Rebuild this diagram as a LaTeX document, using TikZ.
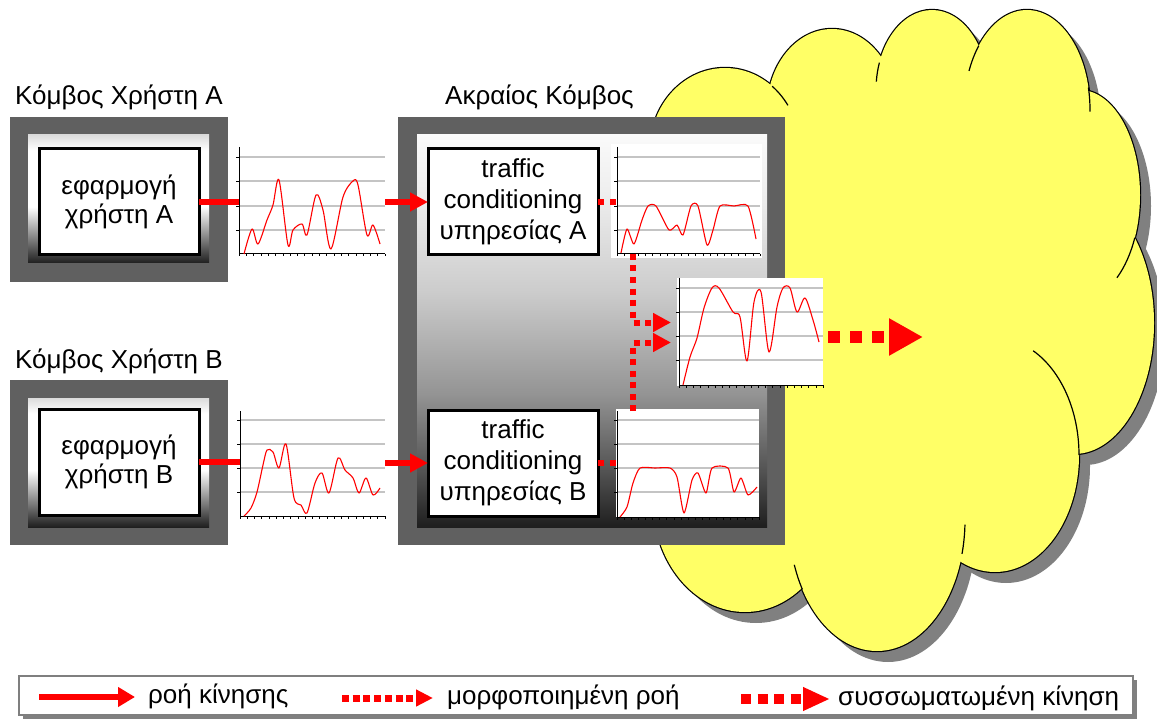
\documentclass[tikz,border=0pt]{standalone}
\usepackage{fontspec}
\setmainfont{Liberation Sans}
\usetikzlibrary{arrows.meta,calc}
\definecolor{bord}{HTML}{606060}
\definecolor{cloudY}{HTML}{FFFF66}
\definecolor{shad}{HTML}{808080}
\definecolor{gridc}{HTML}{C4C4C4}
\definecolor{fred}{HTML}{FF0000}
\definecolor{legb}{HTML}{7F7F7F}
\pgfdeclareverticalshading{usershade}{100bp}{color(0bp)=(black!88); color(25bp)=(black!88); color(47bp)=(white); color(69bp)=(white); color(75bp)=(black!14); color(100bp)=(black!14)}
\pgfdeclareverticalshading{edgeshade}{100bp}{color(0bp)=(black!88); color(25bp)=(black!88); color(32bp)=(black!68); color(42bp)=(black!42); color(55bp)=(black!20); color(67bp)=(black!7); color(75bp)=(black!2); color(100bp)=(black!2)}
\tikzset{
  frame/.style={fill=bord, inner sep=0pt, outer sep=0pt},
  textbox/.style={draw=black, line width=3pt, fill=white, align=center, inner sep=0pt, outer sep=0pt, minimum width=160pt, minimum height=106pt, font=\fontsize{26}{29.5}\selectfont},
  tcbox/.style={textbox, minimum width=170pt, font=\fontsize{26}{31}\selectfont},
  title/.style={anchor=base west, inner sep=0pt, font=\fontsize{26}{30}\selectfont},
  chartbox/.style={inner sep=0pt, outer sep=0pt, anchor=south west},
  gridline/.style={draw=gridc, line width=1.2pt},
  axisline/.style={draw=black, line width=1pt},
  tickline/.style={draw=black, line width=0.6pt},
  curve/.style={draw=fred, line width=1.1pt, line join=round},
  flow/.style={draw=fred, line width=6pt, -{Triangle[length=18pt,width=18pt]}},
  flowline/.style={draw=fred, line width=6pt},
  shaped/.style={draw=fred, line width=6pt, dash pattern=on 6pt off 5.5pt, -{Triangle[length=18pt,width=18pt]}},
  shapedline/.style={draw=fred, line width=6pt, dash pattern=on 6pt off 6pt},
  agg/.style={draw=fred, line width=12pt, dash pattern=on 12pt off 10pt, -{Triangle[length=34pt,width=35pt]}},
  legflow/.style={draw=fred, line width=6pt, -{Triangle[length=17pt,width=19pt]}},
  legshaped/.style={draw=fred, line width=7pt, dash pattern=on 7pt off 3.7pt, -{Triangle[length=17pt,width=16pt]}},
  legagg/.style={draw=fred, line width=10pt, dash pattern=on 10pt off 6.5pt, -{Triangle[length=27pt,width=22pt]}},
  cloudline/.style={draw=black, line width=1.2pt},
  legtext/.style={anchor=base west, inner sep=0pt, font=\fontsize{26}{30}\selectfont},
}
\newcommand\gridchart[6]{%
  \node[chartbox, minimum width={#3-#2}, minimum height={#4-#5}] (#1) at (#2,#4) {};
  \foreach \g in {#6} {\draw[gridline] (#2,\g) -- (#3,\g); \draw[tickline] (#2-3,\g) -- (#2,\g);}
  \foreach \i in {0,...,20} {\draw[tickline] ({#2+\i*(#3-#2)/20},#4) -- ++(0,2.5);}
  \draw[axisline] (#1.north west) -- (#1.south west) -- (#1.south east);
}
\begin{document}
\begin{tikzpicture}[x=1pt,y=-1pt]
\useasboundingbox (0,0) rectangle (1157,722);
% ---------- cloud ----------
\foreach \cx/\cy/\rx/\ry in {725/150/75/82, 832/110/65/81, 932/90/56/80, 1027/110/63/100, 1080/195/60/105, 1074/323/80/131, 995/455/84/117, 877/520/88/131, 745/500/92/112}
  {\fill[shad] (\cx+11,\cy+11) ellipse[x radius=\rx, y radius=\ry];}
\foreach \cx/\cy/\rx/\ry in {725/150/75/82, 832/110/65/81, 932/90/56/80, 1027/110/63/100, 1080/195/60/105, 1074/323/80/131, 995/455/84/117, 877/520/88/131, 745/500/92/112}
  {\draw[fill=cloudY, draw=black, line width=2.4pt] (\cx,\cy) ellipse[x radius=\rx, y radius=\ry];}
\foreach \cx/\cy/\rx/\ry in {725/150/75/82, 832/110/65/81, 932/90/56/80, 1027/110/63/100, 1080/195/60/105, 1074/323/80/131, 995/455/84/117, 877/520/88/131, 745/500/92/112}
  {\fill[cloudY] (\cx,\cy) ellipse[x radius=\rx, y radius=\ry];}
\fill[cloudY] (725,150) -- (832,110) -- (932,90) -- (1027,110) -- (1080,195) -- (1074,323) -- (995,455) -- (877,520) -- (745,500) -- (700,300) -- cycle;
\draw[cloudline] (725,150) ++(-51:75 and 82) arc[start angle=-51, end angle=-33, x radius=75, y radius=82];
\draw[cloudline] (932,90) ++(200:56 and 80) arc[start angle=200, end angle=186, x radius=56, y radius=80];
\draw[cloudline] (1027,110) ++(220:63 and 100) arc[start angle=220, end angle=203, x radius=63, y radius=100];
\draw[cloudline] (1027,110) ++(-13:63 and 100) arc[start angle=-13, end angle=1, x radius=63, y radius=100];
\draw[cloudline] (1080,195) ++(24:60 and 105) arc[start angle=24, end angle=52, x radius=60, y radius=105];
\draw[cloudline] (995,455) ++(-63:84 and 117) arc[start angle=-63, end angle=0, x radius=84, y radius=117];
\draw[cloudline] (877,520) ++(2:88 and 131) arc[start angle=2, end angle=15, x radius=88, y radius=131];
\draw[cloudline] (877,520) ++(148:88 and 131) arc[start angle=148, end angle=160, x radius=88, y radius=131];
% ---------- user nodes ----------
\node[title] (tA) at (15,105) {Κόμβος Χρήστη A};
\node[frame, minimum width=218pt, minimum height=165pt] (uA) at (119,199.5) {};
\shade[shading=usershade] (28,135) rectangle (209,263);
\node[textbox] (appA) at (119,202) {εφαρμογή\\χρήστη A};
\node[title] (tB) at (15,368) {Κόμβος Χρήστη B};
\node[frame, minimum width=218pt, minimum height=165pt] (uB) at (119,462.5) {};
\shade[shading=usershade] (28,398) rectangle (209,527);
\node[textbox] (appB) at (119,462) {εφαρμογή\\χρήστη B};
% ---------- edge node ----------
\node[title] (tE) at (445,105) {Ακραίος Κόμβος};
\node[frame, minimum width=387pt, minimum height=428pt] (edge) at (591.5,331) {};
\shade[shading=edgeshade] (417,135) rectangle (767,527);
\node[tcbox] (trA) at (513,202) {traffic\\conditioning\\υπηρεσίας A};
\node[tcbox] (trB) at (513,463) {traffic\\conditioning\\υπηρεσίας B};
% ---------- charts ----------
\gridchart{chA}{239}{385}{254}{147}{157,181,206,230}
\draw[curve] plot[smooth, tension=0.5] coordinates {(244,254) (252,229) (258,244) (267,220) (273,205) (279,180) (288,245) (293,230) (302,224) (307,235) (316,195) (323,210) (331,249) (343,197) (353,181) (358,185) (367,235) (373,225) (380,244)};
\gridchart{chB}{240}{385}{516}{411}{420,444,468,492}
\draw[curve] plot[smooth, tension=0.5] coordinates {(244,516) (251,508) (257,492) (263,465) (267,450) (273,452) (279,468) (286,444) (294,498) (301,505) (307,513) (315,483) (322,473) (329,493) (338,458) (345,470) (353,478) (359,493) (366,478) (373,495) (380,488)};
\fill[white] (611,144) rectangle (762,258);
\gridchart{chAt}{617}{760}{254}{147}{157,181,206,230}
\draw[curve] plot[smooth, tension=0.4] coordinates {(621,253) (627,229) (634,244) (642,220) (648,206) (656,206) (669,230) (677,225) (683,235) (691,206) (698,206) (707,245) (713,230) (720,206) (734,206) (748,206) (756,239)};
\fill[white] (616,409) rectangle (759,517);
\gridchart{chBt}{617}{759}{517}{411}{420,444,468,492}
\draw[curve] plot[smooth, tension=0.4] coordinates {(620,517) (627,507) (633,483) (640,468) (655,468) (670,468) (677,477) (684,513) (692,480) (698,473) (706,493) (712,468) (728,468) (734,492) (741,478) (748,495) (757,487)};
% ---------- connectors ----------
\draw[flowline] (appA.east) -- (appA.east -| chA.west);
\draw[flow] (chA.east |- trA.west) -- (trA.west);
\draw[shapedline] (trA.east) -- (trA.east -| chAt.west);
\draw[flowline] (appB.east) -- (appB.east -| chB.west);
\draw[flow] (chB.east |- trB.west) -- (trB.west);
\draw[shapedline] (trB.east) -- (trB.east -| chBt.west);
\fill[white] (677,278) rectangle (823,386);
\gridchart{chC}{679}{823}{385}{278}{288,312,336,360}
\draw[curve] plot[smooth, tension=0.5] coordinates {(683,385) (690,357) (697,338) (704,308) (712,288) (719,288) (733,312) (740,317) (747,361) (754,302) (761,292) (769,352) (777,307) (783,288) (790,288) (797,312) (805,298) (813,320) (819,342)};
\draw[shaped] ($(chAt.south west)+(16,0)$) |- ($(chC.west)+(-8,-9)$);
\draw[shaped] ($(chBt.north west)+(16,0)$) |- ($(chC.west)+(-8,11)$);
\coordinate (aggEnd) at (923,337);
\draw[agg] ($(chC.east)+(5,5.5)$) -- (aggEnd);
% ---------- legend ----------
\fill[shad] (23,680) rectangle (1137,719);
\node[draw=legb, line width=1.2pt, fill=white, minimum width=1114pt, minimum height=39pt, inner sep=0pt, outer sep=0pt] (leg) at (576,695.5) {};
\coordinate (l1a) at (39,697); \coordinate (l1b) at (135,697);
\draw[legflow] (l1a) -- (l1b);
\node[legtext] (lt1) at (148,703) {ροή κίνησης};
\coordinate (l2a) at (342,698); \coordinate (l2b) at (433,698);
\draw[legshaped] (l2a) -- (l2b);
\node[legtext] (lt2) at (447,704) {μορφοποιημένη ροή};
\coordinate (l3a) at (741,699); \coordinate (l3b) at (830,699);
\draw[legagg] (l3a) -- (l3b);
\node[legtext] (lt3) at (838,705) {συσσωματωμένη κίνηση};
\end{tikzpicture}
\end{document}
